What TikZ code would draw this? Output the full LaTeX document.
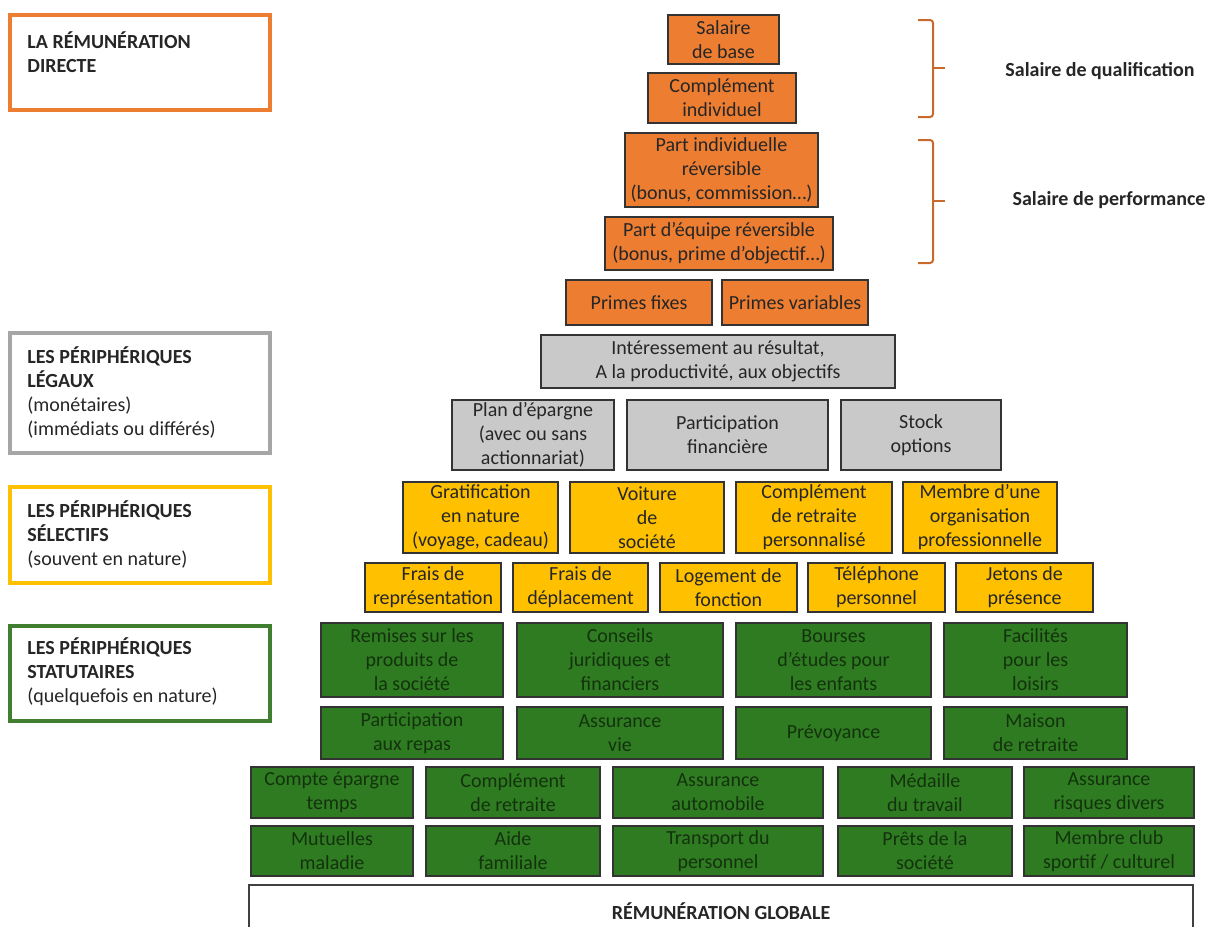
\documentclass[tikz,border=0pt]{standalone}
\usepackage{fontspec}
\setmainfont{Carlito}
\definecolor{orfill}{HTML}{ED7D31}
\definecolor{grfill}{HTML}{C9C9C9}
\definecolor{yefill}{HTML}{FFC000}
\definecolor{gnfill}{HTML}{2F7B22}
\definecolor{gntext}{HTML}{13320D}
\definecolor{grline}{HTML}{A6A6A6}
\definecolor{gnline}{HTML}{3F7F2F}
\newcommand\cellfont{\fontsize{10}{12}\selectfont}
% \cell{name}{x1}{y1}{x2}{y2}{style}{text}: box given by its corners
\newcommand\cell[7]{%
  \node[#6, minimum width={(#4-#2)*0.5pt}, minimum height={(#5-#3)*0.5pt}]
    (#1) at ({(#2+#4)/2},{(#3+#5)/2}) {#7};}
\tikzset{
  cellbox/.style={draw=black!80, line width=1pt, inner sep=0pt, outer sep=0pt,
    align=center, font=\cellfont},
  orangecell/.style={cellbox, fill=orfill, text=black!85},
  graycell/.style={cellbox, fill=grfill, text=black!85},
  yellowcell/.style={cellbox, fill=yefill, text=black!85},
  greencell/.style={cellbox, fill=gnfill, text=gntext},
  totalcell/.style={cellbox, fill=white, draw=black!75, text=black!85, font=\cellfont\bfseries},
  labelbox/.style={draw=#1, line width=2pt, fill=white, inner sep=0pt, outer sep=0pt},
  labeltext/.style={anchor=north west, align=left, inner sep=0pt, font=\cellfont, text=black!85},
  bracketline/.style={draw=orfill!85!black, line width=1pt, rounded corners=1.5pt},
  sidetext/.style={font=\cellfont\bfseries, inner sep=0pt, text=black!85},
}
\begin{document}
\begin{tikzpicture}[x=0.5pt, y=-0.5pt]
\useasboundingbox[fill=white] (0,0) rectangle (1219,926);

% category labels on the left
\cell{lab1}{10}{15}{270}{110}{labelbox=orfill}{}
\node[labeltext] (lab1t) at (27,31) {\bfseries LA RÉMUNÉRATION\\\bfseries DIRECTE};
\cell{lab2}{10}{333}{270}{453}{labelbox=grline}{}
\node[labeltext] (lab2t) at (27,346) {\bfseries LES PÉRIPHÉRIQUES\\\bfseries LÉGAUX\\(monétaires)\\(immédiats ou différés)};
\cell{lab3}{10}{487}{270}{583}{labelbox=yefill}{}
\node[labeltext] (lab3t) at (27,500) {\bfseries LES PÉRIPHÉRIQUES\\\bfseries SÉLECTIFS\\(souvent en nature)};
\cell{lab4}{10}{626}{270}{721}{labelbox=gnline}{}
\node[labeltext] (lab4t) at (27,637) {\bfseries LES PÉRIPHÉRIQUES\\\bfseries STATUTAIRES\\(quelquefois en nature)};

% direct pay
\cell{sb}{668}{15}{779}{64}{orangecell}{Salaire\\de base}
\cell{ci}{648}{73}{796}{123}{orangecell}{Complément\\individuel}
\cell{pir}{625}{133}{818}{207}{orangecell}{Part individuelle\\réversible\\(bonus, commission…)}
\cell{per}{605}{217}{833}{270}{orangecell}{Part d’équipe réversible\\(bonus, prime d’objectif…)}
\cell{pf}{566}{280}{712}{325}{orangecell}{Primes fixes}
\cell{pv}{722}{280}{868}{325}{orangecell}{Primes variables}

% brackets
\coordinate (b1t) at (918,20);
\coordinate (b1b) at (918,117);
\coordinate (b1m) at (933,68);
\draw[bracketline] (b1t) -- (933,20) -- (933,117) -- (b1b);
\draw[bracketline] (b1m) -- (945,68);
\node[sidetext] (sq) at (1100,71) {Salaire de qualification};
\coordinate (b2t) at (918,140);
\coordinate (b2b) at (918,263);
\coordinate (b2m) at (933,201);
\draw[bracketline] (b2t) -- (933,140) -- (933,263) -- (b2b);
\draw[bracketline] (b2m) -- (945,201);
\node[sidetext] (sp) at (1109,200) {Salaire de performance};

% legal peripherals
\cell{intr}{541}{335}{895}{388}{graycell}{Intéressement au résultat,\\A la productivité, aux objectifs}
\cell{pe}{452}{400}{614}{470}{graycell}{Plan d’épargne\\(avec ou sans\\actionnariat)}
\cell{pfin}{627}{400}{828}{470}{graycell}{Participation\\financière}
\cell{so}{841}{400}{1001}{470}{graycell}{Stock\\options}

% selective peripherals
\cell{gn}{403}{482}{558}{553}{yellowcell}{Gratification\\en nature\\(voyage, cadeau)}
\cell{vs}{570}{482}{724}{553}{yellowcell}{Voiture\\de\\société}
\cell{crp}{736}{482}{892}{553}{yellowcell}{Complément\\de retraite\\personnalisé}
\cell{mop}{903}{482}{1057}{553}{yellowcell}{Membre d’une\\organisation\\professionnelle}
\cell{fr}{365}{563}{501}{612}{yellowcell}{Frais de\\représentation}
\cell{fd}{513}{563}{648}{612}{yellowcell}{Frais de\\déplacement}
\cell{lf}{660}{563}{797}{612}{yellowcell}{Logement de\\fonction}
\cell{tp}{808}{563}{945}{612}{yellowcell}{Téléphone\\personnel}
\cell{jp}{956}{563}{1093}{612}{yellowcell}{Jetons de\\présence}

% statutory peripherals
\cell{rp}{321}{623}{503}{697}{greencell}{Remises sur les\\produits de\\la société}
\cell{cj}{517}{623}{723}{697}{greencell}{Conseils\\juridiques et\\financiers}
\cell{be}{736}{623}{931}{697}{greencell}{Bourses\\d’études pour\\les enfants}
\cell{fl}{944}{623}{1127}{697}{greencell}{Facilités\\pour les\\loisirs}
\cell{pr}{321}{707}{503}{759}{greencell}{Participation\\aux repas}
\cell{av}{517}{707}{723}{759}{greencell}{Assurance\\vie}
\cell{pv2}{736}{707}{931}{759}{greencell}{Prévoyance}
\cell{mr}{944}{707}{1127}{759}{greencell}{Maison\\de retraite}
\cell{cet}{251}{767}{413}{818}{greencell}{Compte épargne\\temps}
\cell{cr}{426}{767}{600}{818}{greencell}{Complément\\de retraite}
\cell{aa}{613}{767}{823}{818}{greencell}{Assurance\\automobile}
\cell{mt}{838}{767}{1012}{818}{greencell}{Médaille\\du travail}
\cell{ard}{1024}{767}{1194}{818}{greencell}{Assurance\\risques divers}
\cell{mm}{251}{826}{413}{876}{greencell}{Mutuelles\\maladie}
\cell{af}{426}{826}{600}{876}{greencell}{Aide\\familiale}
\cell{tdp}{613}{826}{823}{876}{greencell}{Transport du\\personnel}
\cell{pls}{838}{826}{1012}{876}{greencell}{Prêts de la\\société}
\cell{mcs}{1024}{826}{1194}{876}{greencell}{Membre club\\sportif / culturel}

% base of the pyramid
\cell{rg}{249}{885}{1193}{937}{totalcell}{RÉMUNÉRATION GLOBALE}
\end{tikzpicture}
\end{document}
